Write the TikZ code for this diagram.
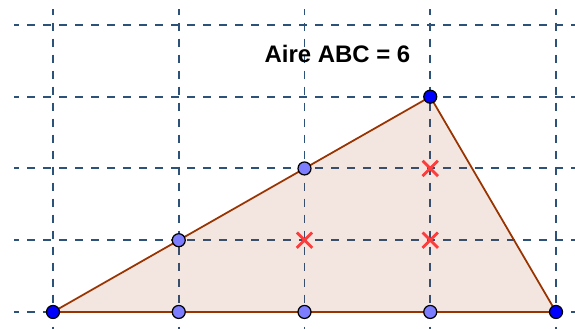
\documentclass[tikz,border=0pt]{standalone}
\usepackage{fontspec}
\setmainfont{Liberation Sans}
\usetikzlibrary{shapes.misc,positioning}
\definecolor{grilleBleu}{RGB}{44,82,122}
\definecolor{brunBord}{RGB}{153,51,0}
\definecolor{pointClair}{RGB}{125,125,255}
\definecolor{croixRouge}{RGB}{255,60,60}
\tikzset{
  grille/.style={grilleBleu, line width=1.1pt, dash pattern=on 0.16cm off 0.16cm},
  bord/.style={brunBord, line width=1pt, fill=brunBord, fill opacity=0.12},
  sommet/.style={circle, draw=black, line width=0.7pt, fill=blue,
                 minimum size=0.26cm, inner sep=0pt},
  pointbord/.style={sommet, fill=pointClair},
  interieur/.style={cross out, draw=croixRouge, line width=1.6pt,
                    minimum size=0.25cm, inner sep=0pt},
  titre/.style={font=\fontsize{13.6}{16}\selectfont\bfseries},
}
\begin{document}
\begin{tikzpicture}[x=2.515cm, y=1.435cm]
  \useasboundingbox (-0.4215,-0.237) rectangle (4.151,4.348);
  % grille
  \foreach \i in {0,...,4} {
    \draw[grille, dash phase=0.06cm] (-0.31,\i) -- (4.151,\i);
    \draw[grille, dash phase=0.05cm] (\i,4.22) -- (\i,-0.237);
  }
  \coordinate (A) at (0,0);
  \coordinate (B) at (4,0);
  \coordinate (C) at (3,3);
  \draw[bord] (A) -- (B) -- (C) -- cycle;
  % points du bord
  \foreach \x in {1,2,3} \node[pointbord] (ab\x) at (\x,0) {};
  \node[pointbord] (ac1) at (1,1) {};
  \node[pointbord] (ac2) at (2,2) {};
  \node[sommet] (pA) at (A) {};
  \node[sommet] (pB) at (B) {};
  \node[sommet] (pC) at (C) {};
  % points interieurs
  \node[interieur] (i1) at (2,1) {};
  \node[interieur] (i2) at (3,1) {};
  \node[interieur] (i3) at (3,2) {};
  \node[titre] (aire) at (2.262,3.596) {Aire ABC = 6};
\end{tikzpicture}
\end{document}
